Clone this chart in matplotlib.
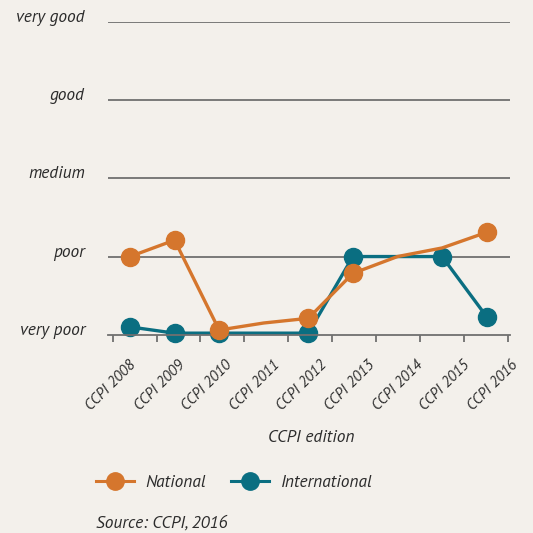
import matplotlib

matplotlib.use("Agg")
import matplotlib.pyplot as plt
import numpy as np
from matplotlib.lines import Line2D

# ratings scale, 0 = very poor ... 4 = very good
levels = ["very poor", "poor", "medium", "good", "very good"]
editions = [f"CCPI {year}" for year in range(2008, 2017)]
national = [1.0, 1.21, 0.06, 0.15, 0.21, 0.785, 1.0, 1.11, 1.31]
international = [0.10, 0.02, 0.02, 0.02, 0.02, 1.0, 1.0, 1.0, 0.23]
# editions that carry a dot
national_marked = [0, 1, 2, 4, 5, 8]
international_marked = [0, 1, 2, 4, 5, 7, 8]

BG = "#f3f0eb"
ORANGE = "#d5762d"
TEAL = "#0a6e81"
GRID = "#707070"
TEXT = "#2b2b2b"

plt.rcParams["font.family"] = ["PT Sans", "DejaVu Sans"]
plt.rcParams["font.style"] = "italic"

fig = plt.figure(figsize=(5.33, 5.33), dpi=100, facecolor=BG)
ax = fig.add_axes([0.2026, 0.372, 0.754, 0.5867], facecolor=BG)

x = np.arange(len(editions))
ax.set_xlim(-0.493, 8.52)
ax.set_ylim(0, 4)

for level in range(1, len(levels)):
    ax.axhline(level, color=GRID, lw=1.3, zorder=1)

ax.plot(x, national, color=ORANGE, lw=2.4, marker="o", ms=13,
        markevery=national_marked, clip_on=False, zorder=3)
ax.plot(x, international, color=TEAL, lw=2.4, marker="o", ms=13,
        markevery=international_marked, clip_on=False, zorder=2)

for side in ("top", "right", "left"):
    ax.spines[side].set_visible(False)
ax.spines["bottom"].set_color(GRID)
ax.spines["bottom"].set_linewidth(1.3)
ax.set_yticks([])
ax.set_xticks(np.linspace(-0.39, 8.48, 10))
ax.set_xticklabels([])
ax.tick_params(axis="x", length=5, width=1.3, color=GRID, direction="out")

for level, name in enumerate(levels):
    ax.annotate(name, xy=(0, level), xycoords=("axes fraction", "data"),
                xytext=(-23, 4), textcoords="offset pixels", style="italic",
                ha="right", va="center", fontsize=12.5, color=TEXT,
                annotation_clip=False)

for i, name in enumerate(editions):
    ax.annotate(name, xy=(0.09 + 1.07 * i, 0), xycoords="data",
                xytext=(0, -28), textcoords="offset pixels", style="italic",
                ha="right", va="center", rotation=45, rotation_mode="anchor",
                fontsize=11, color=TEXT, annotation_clip=False)

fig.text(311 / 533, 1 - 438 / 533, "CCPI edition", ha="center", va="center",
         fontsize=12.5, color=TEXT, style="italic")

handles = [
    Line2D([], [], color=ORANGE, lw=2.2, marker="o", ms=12.5),
    Line2D([], [], color=TEAL, lw=2.2, marker="o", ms=12.5),
]
leg = fig.legend(handles, ["National", "International"], ncol=2, frameon=False,
                 loc="center left", bbox_to_anchor=(89 / 533, 1 - 483 / 533),
                 fontsize=12.5, handlelength=2.2, handletextpad=0.65,
                 columnspacing=1.45, labelcolor=TEXT, borderaxespad=0)
for t in leg.get_texts():
    t.set_style("italic")

fig.text(96 / 533, 1 - 524 / 533, "Source: CCPI, 2016", ha="left", va="center",
         fontsize=12.5, color=TEXT, style="italic")

fig.savefig("out.png", dpi=100, facecolor=BG)
